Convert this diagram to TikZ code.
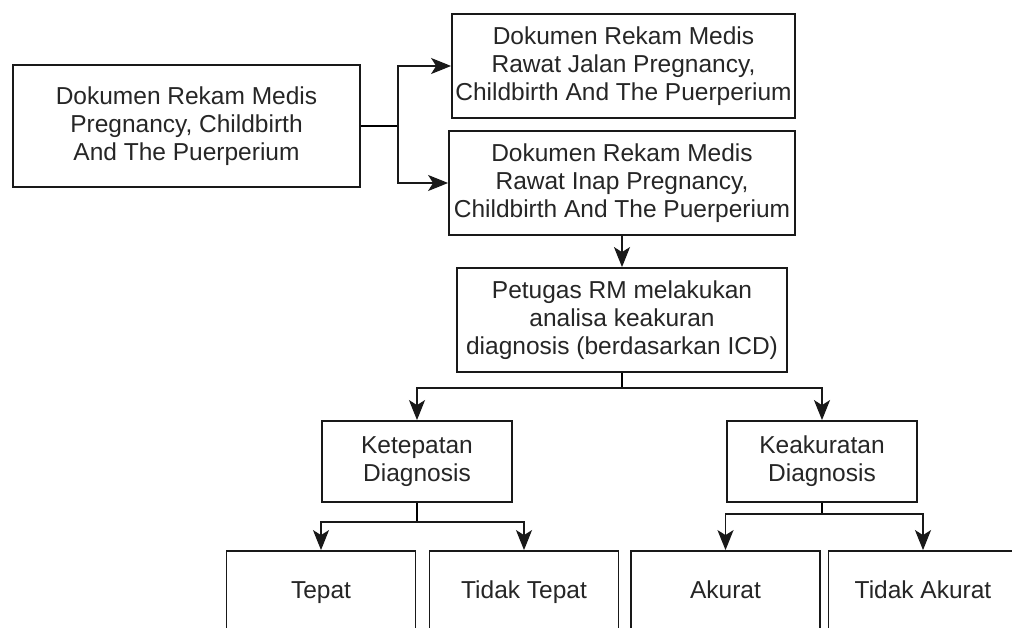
\documentclass[tikz,border=0pt]{standalone}
\usepackage{fontspec}
\setmainfont{Liberation Sans}
\usepackage{tikz}
\usetikzlibrary{positioning, arrows.meta, calc}

\begin{document}
\begin{tikzpicture}[
    x=1pt, y=-1pt,
    line width=1.8pt,
    font=\fontsize{24.5}{28}\selectfont,
    process/.style={draw=black!90, rectangle, inner sep=0pt, align=center, text=black!85},
    doc/.style={process, minimum height=104},
    result/.style={process, minimum width=189, minimum height=82, text height=18pt, text depth=5pt},
    flow/.style={-{Stealth[length=20pt, width=16pt, inset=5pt]}, draw=black!90}
]
    \useasboundingbox (0,0) rectangle (1012,628);
    \fill[white] (0,0) rectangle (1012,628);
    \clip (0,0) rectangle (1012,628);

    % ================= DOCUMENTS =================
    \node[process, minimum width=347, minimum height=122] (DOC) at (186.5,126) {Dokumen Rekam Medis\\Pregnancy, Childbirth\\And The Puerperium};
    \node[doc, minimum width=343] (RJ) at (623.5,66) {Dokumen Rekam Medis\\Rawat Jalan Pregnancy,\\Childbirth And The Puerperium};
    \node[doc, minimum width=346] (RI) at (622,183) {Dokumen Rekam Medis\\Rawat Inap Pregnancy,\\Childbirth And The Puerperium};

    % ================= ANALYSIS =================
    \node[doc, minimum width=330] (ANALISA) at (622,320) {Petugas RM melakukan\\analisa keakuran\\diagnosis (berdasarkan ICD)};
    \node[process, minimum width=190, minimum height=81] (TEPAT_D) at (417,461.5) {Ketepatan\\Diagnosis};
    \node[process, minimum width=190, minimum height=81] (AKURAT_D) at (822,461.5) {Keakuratan\\Diagnosis};

    % ================= RESULTS =================
    \node[result] (tepat) at (321,592) {Tepat};
    \node[result] (t_tepat) at (524,592) {Tidak Tepat};
    \node[result] (akurat) at (725.5,592) {Akurat};
    \node[result] (t_akurat) at (923,592) {Tidak Akurat};

    % ================= CONNECTIONS =================
    % Dokumen - Rawat Jalan / Rawat Inap
    \coordinate (j_doc) at (398,126);
    \draw (DOC.east) -- (j_doc);
    \draw[flow] (j_doc) |- (RJ.west);
    \draw[flow] (j_doc) |- (RI.west);

    % Rawat Inap - Analisa
    \draw[flow] (RI.south) -- (ANALISA.north);

    % Analisa - Ketepatan / Keakuratan
    \coordinate (j_ana) at (622,388);
    \draw (ANALISA.south) -- (j_ana);
    \draw[flow] (j_ana) -| (TEPAT_D.north);
    \draw[flow] (j_ana) -| (AKURAT_D.north);

    % Ketepatan - Tepat / Tidak Tepat
    \coordinate (j_tep) at (417,522);
    \draw (TEPAT_D.south) -- (j_tep);
    \draw[flow] (j_tep) -| (tepat.north);
    \draw[flow] (j_tep) -| (t_tepat.north);

    % Keakuratan - Akurat / Tidak Akurat
    \coordinate (j_aku) at (822,514);
    \draw (AKURAT_D.south) -- (j_aku);
    \draw[flow] (j_aku) -| (akurat.north);
    \draw[flow] (j_aku) -| (t_akurat.north);

\end{tikzpicture}
\end{document}
